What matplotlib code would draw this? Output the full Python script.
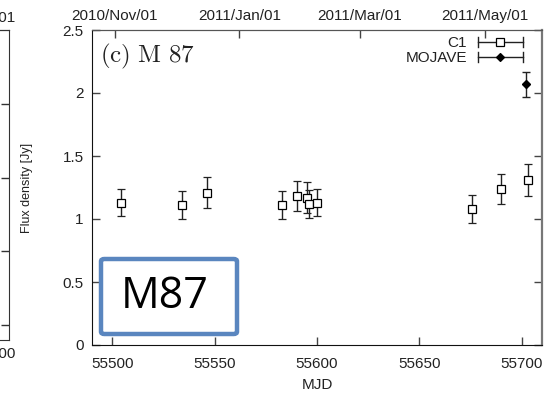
import matplotlib
matplotlib.use("Agg")
import matplotlib.pyplot as plt
from matplotlib.lines import Line2D
from matplotlib.legend_handler import HandlerBase
from matplotlib.patches import FancyBboxPatch

plt.rcParams['font.family'] = ['Liberation Sans', 'DejaVu Sans']
plt.rcParams['mathtext.fontset'] = 'cm'

# C1 (KVN) measurements of M 87
c1_mjd = [55504, 55534, 55546, 55583, 55590, 55595, 55596, 55600, 55676, 55690, 55703]
c1_flux = [1.13, 1.11, 1.21, 1.11, 1.18, 1.17, 1.12, 1.13, 1.08, 1.24, 1.31]
c1_err = [0.11, 0.11, 0.12, 0.11, 0.12, 0.12, 0.11, 0.11, 0.11, 0.12, 0.13]

# MOJAVE measurement
mojave_mjd = [55702]
mojave_flux = [2.07]
mojave_err = [0.10]

# calendar ticks on the top axis
date_mjd = [55501, 55562, 55621, 55682]
date_labels = ['2010/Nov/01', '2011/Jan/01', '2011/Mar/01', '2011/May/01']

x_ticks = [55500, 55550, 55600, 55650, 55700]
y_ticks = [0, 0.5, 1, 1.5, 2, 2.5]

W, H = 559, 395
fig = plt.figure(figsize=(W / 100, H / 100), dpi=100)
fig.patch.set_facecolor('white')


def frac(x0, y0, x1, y1):
    return [x0 / W, 1 - y1 / H, (x1 - x0) / W, (y1 - y0) / H]


# neighbouring panel, mostly outside the figure
ax0 = fig.add_axes(frac(-441, 30, 9, 340))
ax0.set_xlim(55490, 55710)
ax0.set_ylim(-0.2, 4.0)
ax0.set_xticks([55703])
ax0.set_xticklabels(['55700'])
ax0.set_yticks([0, 1, 2, 3])
ax0.set_yticklabels([])
ax0.tick_params(direction='in', length=6, width=1, color='#333333',
                labelsize=11, labelcolor='#222222', right=True, top=False,
                pad=5)
ax0.tick_params(axis='x', length=0)
for s in ax0.spines.values():
    s.set_color('#333333')
sec0 = ax0.secondary_xaxis('top')
sec0.set_xticks([55692])
sec0.set_xticklabels(['2011/May/01'])
sec0.tick_params(direction='in', length=0, labelsize=11, labelcolor='#222222')

# main panel
ax = fig.add_axes(frac(92, 30, 542, 345))
ax.set_xlim(55490, 55710)
ax.set_ylim(0, 2.5)
ax.set_xticks(x_ticks)
ax.set_xticklabels([str(t) for t in x_ticks])
ax.set_yticks(y_ticks)
ax.set_yticklabels(['0', '0.5', '1', '1.5', '2', '2.5'])
ax.tick_params(direction='in', length=6, width=1, color='#444444',
               labelsize=11, labelcolor='#222222', right=True, top=False, pad=6)
ax.tick_params(axis='x', pad=9)
ax.spines['left'].set_color('#111111')
ax.spines['bottom'].set_color('#111111')
ax.spines['top'].set_color('#555555')
ax.spines['right'].set_color('#777777')
ax.spines['right'].set_linewidth(1.6)

sec = ax.secondary_xaxis('top')
sec.set_xticks(date_mjd)
sec.set_xticklabels(date_labels)
sec.tick_params(direction='in', length=6, width=1, color='#444444',
                labelsize=11, labelcolor='#222222', pad=5)
sec.spines['top'].set_color('#555555')

ax.set_xlabel('MJD', fontsize=11, color='#222222', labelpad=5)
ax.set_ylabel('Flux density [Jy]', fontsize=9, color='#222222', labelpad=21)

ax.errorbar(c1_mjd, c1_flux, yerr=c1_err, fmt='s', ms=5.5, mfc='white',
            mec='black', mew=0.9, ecolor='#222222', elinewidth=1,
            capsize=3, capthick=1, zorder=3)
ax.errorbar(mojave_mjd, mojave_flux, yerr=mojave_err, fmt='D', ms=3.8,
            mfc='black', mec='black', ecolor='#222222', elinewidth=1,
            capsize=3, capthick=1, zorder=3)


class KeyHandler(HandlerBase):
    """Horizontal key sample with end bars and the point marker in the middle."""

    def __init__(self, marker, mfc, ms):
        super().__init__()
        self.marker, self.mfc, self.ms = marker, mfc, ms

    def create_artists(self, legend, orig_handle, xdescent, ydescent,
                       width, height, fontsize, trans):
        y = height / 2 - ydescent
        x0, x1 = -xdescent, width - xdescent
        cap = 3.5
        arts = [
            Line2D([x0, x1], [y, y], color='#222222', lw=1),
            Line2D([x0, x0], [y - cap, y + cap], color='#222222', lw=1),
            Line2D([x1, x1], [y - cap, y + cap], color='#222222', lw=1),
            Line2D([(x0 + x1) / 2], [y], marker=self.marker, ms=self.ms,
                   mfc=self.mfc, mec='black', mew=0.9, ls='none'),
        ]
        for a in arts:
            a.set_transform(trans)
        return arts


h1 = Line2D([], [], label='C1')
h2 = Line2D([], [], label='MOJAVE')
leg = ax.legend([h1, h2], ['C1', 'MOJAVE'],
                handler_map={h1: KeyHandler('s', 'white', 5.5),
                             h2: KeyHandler('D', 'black', 3.8)},
                loc='upper right', bbox_to_anchor=(1 - 19 / 450, 1 - 6 / 315),
                frameon=False, markerfirst=False, fontsize=11,
                handlelength=2.95, handletextpad=0.7, labelspacing=0.08,
                borderpad=0, borderaxespad=0)
for t in leg.get_texts():
    t.set_color('#222222')

ax.text(0.018, 0.915, r'$\mathrm{(c)\ M\ 87}$', transform=ax.transAxes,
        fontsize=18, ha='left', va='center', color='#222222')

# highlighted source label
box = FancyBboxPatch((101 / W, 1 - 334 / H), 136 / W, 75 / H,
                     boxstyle='round,pad=0,rounding_size=0.006',
                     transform=fig.transFigure, facecolor='white',
                     edgecolor='#5a86bf', linewidth=3.2, zorder=5)
fig.add_artist(box)
fig.text(165 / W, 1 - 297 / H, 'M87', fontsize=31, ha='center', va='center',
         color='black', family=['Open Sans', 'DejaVu Sans'], zorder=6)

fig.savefig('out.png', dpi=100)
